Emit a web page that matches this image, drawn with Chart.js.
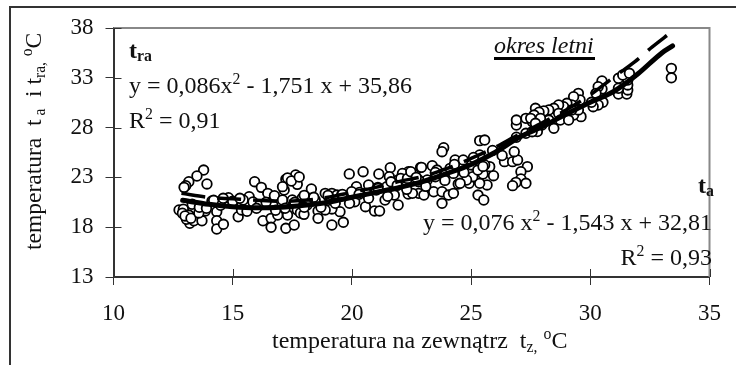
<!DOCTYPE html>
<html>
<head>
<meta charset="utf-8">
<script src="https://cdn.jsdelivr.net/npm/chart.js@4"></script>
<style>
  html, body { margin: 0; padding: 0; background: #fff; }
  #box { position: relative; width: 736px; height: 365px; }
</style>
</head>
<body>
<div id="box"><canvas id="chart" width="736" height="365"></canvas></div>
<script>
const xTicks = [10, 15, 20, 25, 30, 35];
const yTicks = [13, 18, 23, 28, 33, 38];

const obsX1 = [13.78,13.5,13.92,13.16,13.03,12.96,12.75,12.93,12.89,13.16,13.2,13.37,13.71,13.85,14.33,14.33,14.33,14.61,14.13,14.82,15.23,15.37,15.69,15.92,16.2,16.47,16.75,16.27,16.61,16.61,16.89,17.23,17.58,17.23,17.64,17.16,17.09,17.71,17.3,17.46,17.79,13.06,13.0,13.25,13.58,14.49,15.02,15.44,15.85,16.14,16.68,17.09,17.5,17.92,17.71,17.3,18.12,18.46,17.84];
const obsY1 = [23.74,23.14,22.34,22.57,22.17,22.0,19.73,19.8,19.4,19.22,18.39,18.65,18.65,19.63,19.56,18.65,17.82,18.29,20.63,20.96,19.05,19.73,21.06,22.57,22.0,21.4,21.16,18.65,18.89,17.99,19.22,17.89,18.22,22.81,23.24,21.73,22.07,22.3,22.94,22.64,23.04,18.8,19.13,18.9,19.43,20.2,20.53,20.73,20.53,20.23,20.23,20.73,20.73,20.93,19.73,19.22,20.23,20.73,19.43];

const obsX2 = [19.89,20.47,21.13,21.61,22.37,22.12,21.94,21.57,22.88,18.3,18.0,20.19,20.7,21.09,21.46,17.99,18.58,18.58,19.16,19.64,19.5,19.16,18.88,20.12,20.57,20.95,21.16,21.39,21.94,22.36,21.78,18.88,19.16,19.37,19.57,19.02,20.6,20.32,21.02,19.99,21.64,22.05,22.33,22.8,22.8];
const obsY2 = [23.35,23.57,23.34,23.97,23.57,23.4,22.74,23.07,24.0,21.84,21.2,22.07,22.24,22.0,22.07,19.29,19.63,18.89,18.22,18.49,19.56,19.83,19.73,20.56,20.06,19.63,19.63,20.73,20.23,21.33,21.23,21.4,21.4,21.23,21.23,21.06,21.4,21.5,21.73,21.56,22.56,22.9,22.9,22.56,21.4];

const obsX3 = [25.36,25.57,23.85,23.78,22.92,23.37,24.33,24.67,25.36,22.47,26.4,26.74,26.95,26.81,27.36,27.09,27.09,27.3,26.88,26.74,23.02,22.54,23.43,23.78,23.78,24.05,24.26,24.46,24.92,25.29,25.53,25.67,25.94,25.5,25.36,25.07,24.81,25.78,25.57,24.26,23.85,23.5,23.16,22.8,24.54,23.57,24.12,25.02,25.28];
const obsY3 = [26.69,26.75,25.98,25.58,24.01,24.17,24.75,24.75,25.25,23.57,24.58,24.58,24.75,25.58,24.08,23.57,22.84,22.41,22.5,22.17,21.23,21.4,21.56,21.56,20.4,21.23,21.4,22.34,22.41,21.23,20.73,22.24,23.17,23.34,22.41,23.07,22.74,24.08,24.25,23.4,23.4,23.07,22.74,22.74,22.41,23.74,23.91,24.25,23.74];

const obsX4 = [26.9,26.9,26.9,27.3,27.57,27.3,27.78,27.7,33.4,33.4,30.49,30.49,30.33,30.53,30.33,30.12,31.18,31.53,31.57,31.57,31.57,31.18,31.18,31.36,31.64,29.5,29.57,29.3,29.61,29.22,29.02,28.88,28.67,28.47,28.26,28.05,27.85,27.64,27.5,28.47,27.97,27.56,28.26,28.67,28.95,29.3,29.5,29.22,28.74,29.09,27.91,27.7,30.05,30.24];
const obsY4 = [28.26,28.76,27.03,28.93,28.6,27.43,27.6,29.94,33.95,33.0,32.68,31.88,32.1,30.54,30.27,30.1,31.37,31.37,31.78,32.28,32.78,31.95,32.95,33.28,33.45,31.44,30.77,31.1,29.1,30.27,30.44,30.1,30.27,29.94,29.77,29.67,29.54,29.26,28.93,27.93,28.26,27.59,28.76,29.43,29.26,29.26,29.77,29.77,28.76,28.76,28.93,28.43,30.54,31.44];

// points half hidden in the band along the curves
const obsX5 = [13.3,13.6,13.9,14.2,14.6,15.0,15.3,15.6,16.0,16.4,16.8,17.2,17.6,18.0,18.4,18.7,19.0,19.3,19.6,19.9,20.3,20.7,21.1,21.5,21.9,22.3,22.7,23.1,23.5,23.9,24.3,24.7,25.1,25.5,25.9,26.3];
const obsY5 = [20.3,20.0,19.9,20.7,20.9,20.6,20.9,19.6,19.9,20.5,19.7,19.9,20.5,20.0,21.0,20.0,21.2,20.4,21.3,20.4,21.3,20.9,21.9,21.1,22.2,21.8,23.0,22.1,23.5,22.7,24.3,23.5,25.0,24.1,25.7,25.2];

const obsX = [...obsX1, ...obsX2, ...obsX3, ...obsX4, ...obsX5];
const obsY = [...obsY1, ...obsY2, ...obsY3, ...obsY4, ...obsY5];

// the two trend curves
const taX = [12.9,14,15,16,17,18,19,20,21,22,23,24,25,26,27,28,29,30,31,32,33,33.45];
const taY = [20.7,20.3,20.05,19.95,20.0,20.2,20.5,21.0,21.5,22.0,22.6,23.4,24.3,25.5,27.0,28.1,29.37,30.55,31.65,33.4,35.5,36.2];
const traX = [12.85,14,15,16,17,18,19,20,21,22,23,24,25,26,27,28,29,30,31,31.86,32.6,33.35];
const traY = [21.4,21.0,20.85,20.7,20.6,20.7,21.0,21.5,22.0,22.6,23.1,23.9,24.9,26.0,27.3,28.5,29.8,31.3,33.1,34.6,36.1,37.5];

const toPoints = (xs, ys) => xs.map((x, i) => ({ x: x, y: ys[i] }));

const serif = '"Liberation Serif", "Times New Roman", serif';
const SIZE = 24;
const TICK_SIZE = 23;

// one piece of text: s = string, k = size factor, dy = baseline shift, w = font style
function runFont(r) {
  return (r.w || '') + ' ' + (SIZE * (r.k || 1)).toFixed(1) + 'px ' + serif;
}

function runWidth(ctx, runs) {
  let w = 0;
  runs.forEach(r => { ctx.font = runFont(r); w += ctx.measureText(r.s).width; });
  return w;
}

function drawRuns(ctx, x, y, runs, align) {
  ctx.save();
  ctx.fillStyle = '#111';
  ctx.textAlign = 'left';
  ctx.textBaseline = 'alphabetic';
  let cx = align === 'right' ? x - runWidth(ctx, runs) : x;
  runs.forEach(r => {
    ctx.font = runFont(r);
    ctx.fillText(r.s, cx, y + (r.dy || 0));
    cx += ctx.measureText(r.s).width;
  });
  ctx.restore();
}

const sup = s => ({ s: s, k: 0.66, dy: -9 });
const sub = s => ({ s: s, k: 0.66, dy: 4 });

const frame = {
  id: 'frame',
  beforeDatasetsDraw(chart) {
    const { ctx, chartArea: a } = chart;
    ctx.save();
    ctx.strokeStyle = '#888';
    ctx.lineWidth = 2;
    ctx.beginPath();
    ctx.moveTo(a.left, a.top);
    ctx.lineTo(a.right, a.top);
    ctx.lineTo(a.right, a.bottom);
    ctx.stroke();
    ctx.restore();
  },
  afterDraw(chart) {
    const { ctx, chartArea: a, scales } = chart;
    ctx.save();
    // outer border, only left and top
    ctx.strokeStyle = '#333';
    ctx.lineWidth = 2;
    ctx.beginPath();
    ctx.moveTo(10, 365);
    ctx.lineTo(10, 7);
    ctx.lineTo(736, 7);
    ctx.stroke();
    // inner half of the crossing ticks
    ctx.strokeStyle = '#333';
    ctx.lineWidth = 1;
    ctx.beginPath();
    yTicks.forEach(v => {
      const p = Math.round(scales.y.getPixelForValue(v)) + 0.5;
      ctx.moveTo(a.left, p);
      ctx.lineTo(a.left + 8, p);
    });
    xTicks.forEach(v => {
      const p = Math.round(scales.x.getPixelForValue(v)) + 0.5;
      ctx.moveTo(p, a.bottom);
      ctx.lineTo(p, a.bottom - 8);
    });
    ctx.stroke();
    // underline of the season label
    ctx.fillStyle = '#000';
    ctx.fillRect(494, 57, 101, 3);
    ctx.restore();

    drawRuns(ctx, 129, 58, [{ s: 't', w: 'bold' }, { s: 'ra', w: 'bold', k: 0.66, dy: 3 }]);
    drawRuns(ctx, 129, 93, [{ s: 'y = 0,086x' }, sup('2'), { s: ' - 1,751 x + 35,86' }]);
    drawRuns(ctx, 129, 128, [{ s: 'R' }, sup('2'), { s: ' = 0,91' }]);
    drawRuns(ctx, 494, 53, [{ s: 'okres letni', w: 'italic' }]);
    drawRuns(ctx, 714, 193, [{ s: 't', w: 'bold' }, { s: 'a', w: 'bold', k: 0.66, dy: 3 }], 'right');
    drawRuns(ctx, 712, 230, [{ s: 'y = 0,076 x' }, sup('2'), { s: ' - 1,543 x + 32,81' }], 'right');
    drawRuns(ctx, 712, 265, [{ s: 'R' }, sup('2'), { s: ' = 0,93' }], 'right');

    // axis titles, they carry sub- and superscripts
    drawRuns(ctx, 272, 348, [{ s: 'temperatura na zewnątrz  t' }, sub('z,'), { s: ' ' }, sup('o'), { s: 'C' }]);
    ctx.save();
    ctx.translate(41, 250);
    ctx.rotate(-Math.PI / 2);
    ctx.scale(0.98, 1);
    drawRuns(ctx, 0, 0, [{ s: 'temperatura  t' }, sub(' a'), { s: '  i t' }, sub('ra,'), { s: ' ' }, sup('o'), { s: 'C' }]);
    ctx.restore();
  }
};

new Chart(document.getElementById('chart'), {
  type: 'scatter',
  data: {
    datasets: [
      {
        label: 'ta',
        data: toPoints(taX, taY),
        showLine: true,
        order: 0,
        borderColor: '#000',
        borderWidth: 5,
        borderCapStyle: 'round',
        pointRadius: 0,
        cubicInterpolationMode: 'monotone'
      },
      {
        label: 'tra',
        data: toPoints(traX, traY),
        showLine: true,
        order: 1,
        borderColor: '#000',
        borderWidth: 3.5,
        borderDash: [24, 12],
        pointRadius: 0,
        cubicInterpolationMode: 'monotone'
      },
      {
        label: 'pomiary',
        data: toPoints(obsX, obsY),
        order: 2,
        pointRadius: 4.8,
        pointBorderWidth: 1.8,
        pointBorderColor: '#000',
        pointBackgroundColor: '#fff'
      }
    ]
  },
  plugins: [frame],
  options: {
    responsive: false,
    animation: false,
    layout: { padding: { top: 28, right: 18, left: 0, bottom: 0 } },
    plugins: { legend: { display: false }, tooltip: { enabled: false } },
    scales: {
      x: {
        type: 'linear',
        min: 10,
        max: 35,
        afterFit: s => { s.height = 88; },
        afterBuildTicks: s => { s.ticks = xTicks.map(v => ({ value: v })); },
        grid: { drawOnChartArea: false, tickLength: 8, tickColor: '#333', tickWidth: 1 },
        border: { color: '#333', width: 2 },
        ticks: { color: '#111', padding: 15, maxRotation: 0, font: { family: serif, size: TICK_SIZE } }
      },
      y: {
        type: 'linear',
        min: 13,
        max: 38,
        afterFit: s => { s.width = 113.5; },
        afterBuildTicks: s => { s.ticks = yTicks.map(v => ({ value: v })); },
        grid: { drawOnChartArea: false, tickLength: 8, tickColor: '#333', tickWidth: 1 },
        border: { color: '#333', width: 2 },
        ticks: { color: '#111', padding: 12, font: { family: serif, size: TICK_SIZE } }
      }
    }
  }
});
</script>
</body>
</html>
